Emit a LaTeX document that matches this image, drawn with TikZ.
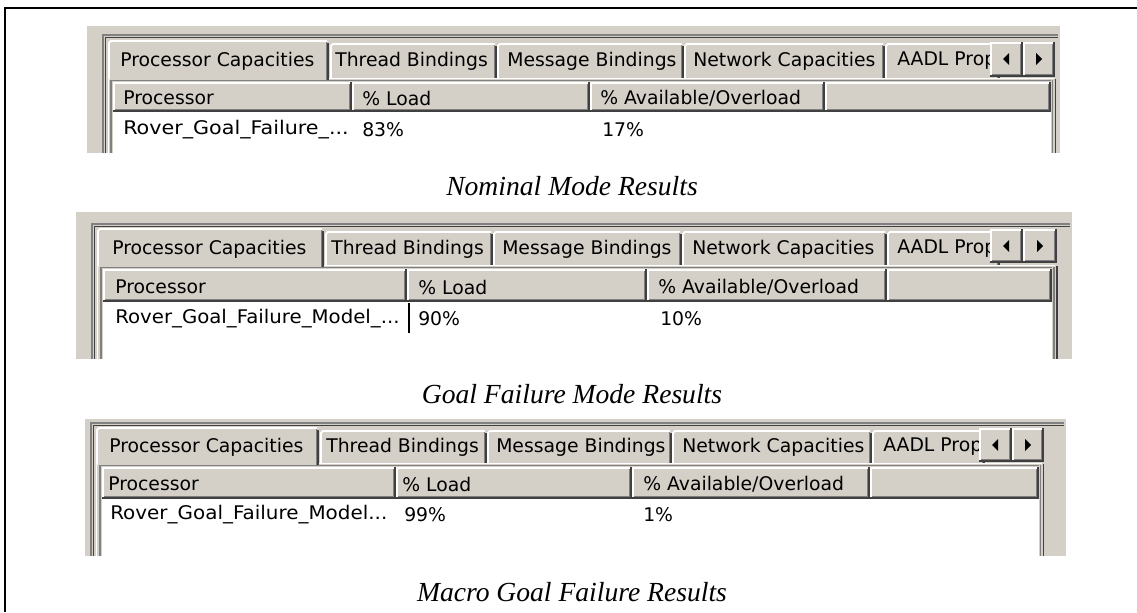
\documentclass[tikz,border=0pt]{standalone}
\usepackage{fontspec}
\newfontfamily\uifont{DejaVu Sans}
\newfontfamily\capfontfam{Liberation Serif}
\definecolor{winbg}{RGB}{212,208,200}
\definecolor{wingray}{RGB}{128,128,128}
\definecolor{windark}{RGB}{64,64,64}
\tikzset{
  ui/.style={font={\uifont\fontsize{14.1}{16}\selectfont}, inner sep=0pt, anchor=west, text=black},
  captxt/.style={font={\capfontfam\itshape\fontsize{20.7}{24}\selectfont}, inner sep=0pt, text=black},
  hl/.style={draw=white, line width=1.35pt},
  sh/.style={draw=wingray, line width=1.35pt},
  dk/.style={draw=windark, line width=1.35pt},
  frameline/.style={draw=black, line width=2.2pt},
  rowbg/.style={fill=white},
  cursorline/.style={draw=black, line width=0.9pt},
}
% raised 3D box: x1, top, x2, bottom
\newcommand\wbutton[4]{%
  \fill[winbg] (#1,#2) rectangle (#3,#4);
  \draw[hl] (#1+0.7,#4) -- (#1+0.7,#2+0.7) -- (#3,#2+0.7);
  \draw[sh] (#1+1.8,#4-2.6) -- (#3-2.6,#4-2.6) -- (#3-2.6,#2+1.8);
  \draw[dk] (#1,#4-0.7) -- (#3-0.7,#4-0.7) -- (#3-0.7,#2);
}
% tab: x1, top, x2, bottom
\newcommand\wtab[4]{%
  \fill[winbg] (#1,#2) rectangle (#3,#4);
  \draw[hl] (#1+0.9,#4) -- (#1+0.9,#2+3) -- (#1+3,#2+0.9) -- (#3-2,#2+0.9);
  \draw[sh] (#3-2.6,#2+2) -- (#3-2.6,#4);
  \draw[dk] (#3-0.8,#2+3) -- (#3-0.8,#4);
}
\newcommand\wleft[2]{\fill[black] (#1-3,#2) -- (#1+3,#2-6) -- (#1+3,#2+6) -- cycle;}
\newcommand\wright[2]{\fill[black] (#1+3,#2) -- (#1-3,#2-6) -- (#1-3,#2+6) -- cycle;}
\newcommand\wide[2]{\scalebox{#1}[1]{#2}}
\begin{document}
\begin{tikzpicture}[x=0.75pt,y=-0.75pt]
\useasboundingbox (0,0) rectangle (1137,612);
\fill[white] (0,0) rectangle (1137,612);
% outer frame
\draw[frameline] (5,612) -- (5,8) -- (1137,8);

% ================= panel 1 =================
\fill[winbg] (87,26) rectangle (1060,153);
\draw[sh] (103,153) -- (103,35) -- (1058,35);
\draw[dk] (105.5,153) -- (105.5,37.5) -- (1058,37.5);
\draw[hl] (108.5,153) -- (108.5,78);
\draw[hl] (108,78.5) -- (1054,78.5);
\draw[sh] (1052.5,80) -- (1052.5,153);
\draw[dk] (1055.5,79) -- (1055.5,153);
\wtab{330}{43}{497}{78}\wtab{497}{43}{684}{78}\wtab{684}{43}{885}{78}\wtab{885}{43}{1000}{78}
\wtab{108}{40}{329}{79.5}
\draw[sh] (111,153) -- (111,80.5) -- (1051,80.5);
\wbutton{113}{82}{352}{112}\wbutton{352}{82}{590}{112}\wbutton{590}{82}{825}{112}\wbutton{825}{82}{1051}{112}
\fill[rowbg] (113,112) rectangle (1051,153);
\node[ui] (p1t1) at (120,61) {Processor Capacities};
\node[ui] (p1t2) at (335,61) {Thread Bindings};
\node[ui] (p1t3) at (507,61) {Message Bindings};
\node[ui] (p1t4) at (693,61) {Network Capacities};
\node[ui] (p1t5) at (897,61) {AADL Prop};
\wbutton{990}{42}{1023}{77}\wbutton{1023}{42}{1055}{77}
\wleft{1006}{59}\wright{1039}{59}
\node[ui] (p1h1) at (123,98) {Processor};
\node[ui] (p1h2) at (362,98) {\% Load};
\node[ui] (p1h3) at (600,98) {\% Available/Overload};
\node[ui] (p1r1) at (123,130) {\wide{1.1}{Rover\_Goal\_Failure\_...}};
\node[ui] (p1r2) at (362,130) {83\%};
\node[ui] (p1r3) at (602,130) {17\%};
\node[captxt] (c1) at (572,186) {Nominal Mode Results};

% ================= panel 2 =================
\fill[winbg] (76,212) rectangle (1072,359);
\draw[sh] (92,359) -- (92,224) -- (1070,224);
\draw[dk] (94.5,359) -- (94.5,226.5) -- (1070,226.5);
\draw[hl] (97.5,359) -- (97.5,265);
\draw[hl] (97,265.5) -- (1055,265.5);
\draw[sh] (1054,267) -- (1054,359);
\draw[dk] (1057,266) -- (1057,359);
\wtab{325}{231}{493}{265}\wtab{493}{231}{682}{265}\wtab{682}{231}{887}{265}\wtab{887}{231}{1000}{265}
\wtab{97}{228}{324}{266.5}
\draw[sh] (101,359) -- (101,267.5) -- (1052,267.5);
\wbutton{103}{269}{407}{302}\wbutton{407}{269}{647}{302}\wbutton{647}{269}{887}{302}\wbutton{887}{269}{1052}{302}
\fill[rowbg] (103,302) rectangle (1052,359);
\draw[cursorline] (409,303) -- (409,333);
\node[ui] (p2t1) at (112,249) {Processor Capacities};
\node[ui] (p2t2) at (331,249) {Thread Bindings};
\node[ui] (p2t3) at (502,249) {Message Bindings};
\node[ui] (p2t4) at (692,249) {Network Capacities};
\node[ui] (p2t5) at (897,249) {AADL Prop};
\wbutton{990}{229}{1023}{263}\wbutton{1023}{229}{1057}{263}
\wleft{1006}{246}\wright{1040}{246}
\node[ui] (p2h1) at (115,287) {Processor};
\node[ui] (p2h2) at (418,287) {\% Load};
\node[ui] (p2h3) at (658,287) {\% Available/Overload};
\node[ui] (p2r1) at (115,319) {\wide{1.05}{Rover\_Goal\_Failure\_Model\_...}};
\node[ui] (p2r2) at (418,319) {90\%};
\node[ui] (p2r3) at (660,319) {10\%};
\node[captxt] (c2) at (572,394) {Goal Failure Mode Results};

% ================= panel 3 =================
\fill[winbg] (85,419) rectangle (1066,556);
\draw[sh] (91,556) -- (91,423) -- (1064,423);
\draw[dk] (93.5,556) -- (93.5,425.5) -- (1064,425.5);
\draw[hl] (96.5,556) -- (96.5,463);
\draw[hl] (96,463.5) -- (1042,463.5);
\draw[sh] (1040.5,465) -- (1040.5,556);
\draw[dk] (1043.5,464) -- (1043.5,556);
\wtab{320}{430}{487}{463}\wtab{487}{430}{672}{463}\wtab{672}{430}{872}{463}\wtab{872}{430}{985}{463}
\wtab{96}{427}{319}{464.5}
\draw[sh] (100,556) -- (100,465.5) -- (1039,465.5);
\wbutton{102}{467}{396}{499}\wbutton{396}{467}{632}{499}\wbutton{632}{467}{870}{499}\wbutton{870}{467}{1039}{499}
\fill[rowbg] (102,499) rectangle (1039,556);
\node[ui] (p3t1) at (109,447) {Processor Capacities};
\node[ui] (p3t2) at (326,447) {Thread Bindings};
\node[ui] (p3t3) at (496,447) {Message Bindings};
\node[ui] (p3t4) at (682,447) {Network Capacities};
\node[ui] (p3t5) at (883,447) {AADL Prop};
\wbutton{979}{428}{1012}{462}\wbutton{1012}{428}{1044}{462}
\wleft{995}{445}\wright{1028}{445}
\node[ui] (p3h1) at (108,484) {Processor};
\node[ui] (p3h2) at (402,484) {\% Load};
\node[ui] (p3h3) at (643,484) {\% Available/Overload};
\node[ui] (p3r1) at (110,515) {\wide{1.06}{Rover\_Goal\_Failure\_Model...}};
\node[ui] (p3r2) at (404,515) {99\%};
\node[ui] (p3r3) at (643,515) {1\%};
\node[captxt] (c3) at (572,592) {Macro Goal Failure Results};
\end{tikzpicture}
\end{document}
